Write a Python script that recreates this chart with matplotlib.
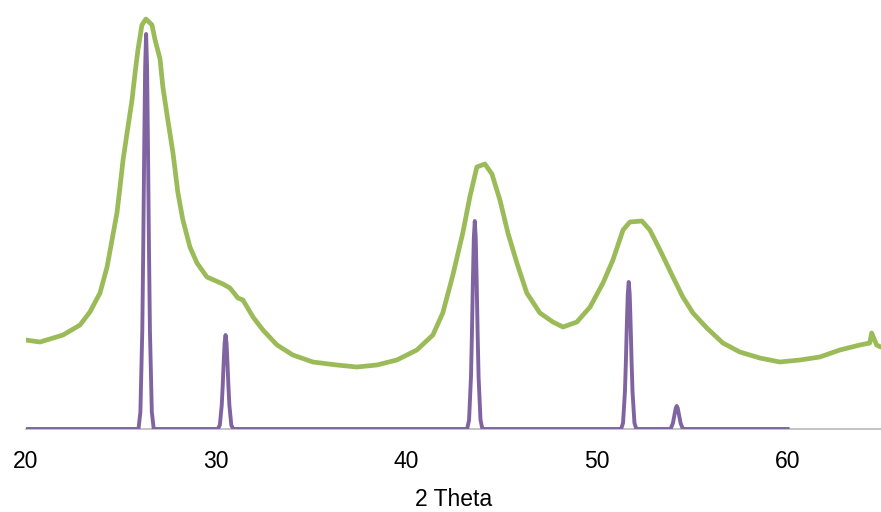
import matplotlib
matplotlib.use("Agg")
import matplotlib.pyplot as plt

plt.rcParams['font.family'] = ['Liberation Sans', 'DejaVu Sans']

# Sample (green) pattern: 2-theta and intensity
sample_x = [20.0, 20.76, 21.97, 22.86, 23.38, 23.91, 24.28, 24.54, 24.80, 24.96,
            25.12, 25.33, 25.59, 25.75, 25.90, 26.11, 26.32, 26.64, 26.79, 27.06,
            27.21, 27.47, 27.74, 28.00, 28.26, 28.63, 29.00, 29.52, 30.36, 30.73,
            31.15, 31.41, 31.94, 32.46, 33.20, 34.03, 35.08, 36.34, 37.39, 38.44,
            39.49, 40.54, 41.38, 41.90, 42.43, 42.95, 43.32, 43.69, 44.11, 44.48,
            44.90, 45.32, 45.79, 46.31, 47.00, 47.68, 48.21, 48.94, 49.63, 50.31,
            50.83, 51.36, 51.72, 52.35, 52.77, 53.30, 53.98, 54.50, 55.03, 55.76,
            56.60, 57.49, 58.54, 59.59, 60.64, 61.69, 62.74, 63.79, 64.31, 64.41,
            64.67, 64.88]
sample_y = [89, 87, 94, 104, 117, 136, 162, 189, 216, 242,
            269, 296, 329, 356, 379, 404, 410, 404, 390, 370,
            342, 309, 276, 236, 209, 182, 166, 152, 145, 141,
            131, 129, 112, 99, 84, 74, 67, 64, 62, 64,
            69, 79, 94, 116, 154, 196, 232, 262, 265, 255,
            229, 196, 166, 136, 116, 107, 102, 107, 122, 146,
            169, 199, 207, 208, 199, 179, 152, 132, 116, 101,
            86, 77, 71, 67, 69, 72, 79, 84, 86, 96,
            84, 82]

# Reference (purple) pattern
ref_x = [20.0,
         25.93, 26.03, 26.13, 26.18, 26.23, 26.28, 26.33, 26.38, 26.43, 26.48, 26.53, 26.63, 26.73,
         30.10, 30.20, 30.30, 30.35, 30.40, 30.45, 30.50, 30.55, 30.60, 30.65, 30.70, 30.80, 30.90,
         43.18, 43.28, 43.38, 43.43, 43.48, 43.53, 43.58, 43.63, 43.68, 43.73, 43.78, 43.88, 43.98,
         51.26, 51.36, 51.46, 51.51, 51.56, 51.61, 51.66, 51.71, 51.76, 51.81, 51.86, 51.96, 52.06,
         53.78, 53.88, 53.98, 54.03, 54.08, 54.13, 54.18, 54.23, 54.28, 54.33, 54.38, 54.48, 54.58,
         60.0]
ref_y = [0,
         0, 17, 99, 181, 279, 362, 395, 362, 279, 181, 99, 17, 0,
         0, 4, 24, 43, 66, 86, 94, 86, 66, 43, 24, 4, 0,
         0, 9, 52, 95, 147, 191, 208, 191, 147, 95, 52, 9, 0,
         0, 6, 37, 67, 104, 135, 147, 135, 104, 67, 37, 6, 0,
         0, 1, 6, 11, 16, 21, 23, 21, 16, 11, 6, 1, 0,
         0]

x_ticks = [20, 30, 40, 50, 60]
x_label = "2 Theta"

fig = plt.figure(figsize=(8.81, 5.12), dpi=100)
ax = fig.add_axes([25.5 / 881, 83 / 512, (881 - 25.5) / 881, 420 / 512])

ax.plot(sample_x, sample_y, color='#9BBB59', lw=3.4, solid_joinstyle='round',
        solid_capstyle='round', zorder=3)
ax.plot(ref_x, ref_y, color='#8064A2', lw=2.8, solid_joinstyle='round', zorder=4)

ax.set_xlim(20, 64.9)
ax.set_ylim(0, 420)
for s in ['top', 'right', 'left']:
    ax.spines[s].set_visible(False)
ax.spines['bottom'].set_color('#BFBFBF')
ax.spines['bottom'].set_linewidth(1.3)
ax.set_yticks([])
ax.set_xticks(x_ticks)
ax.set_xticklabels([str(t) for t in x_ticks])
ax.tick_params(axis='x', length=0, pad=15, labelsize=16.5, colors='black')
ax.set_xlabel(x_label, fontsize=16.5, labelpad=11)
ax.patch.set_visible(False)

fig.savefig("out.png", dpi=100)
